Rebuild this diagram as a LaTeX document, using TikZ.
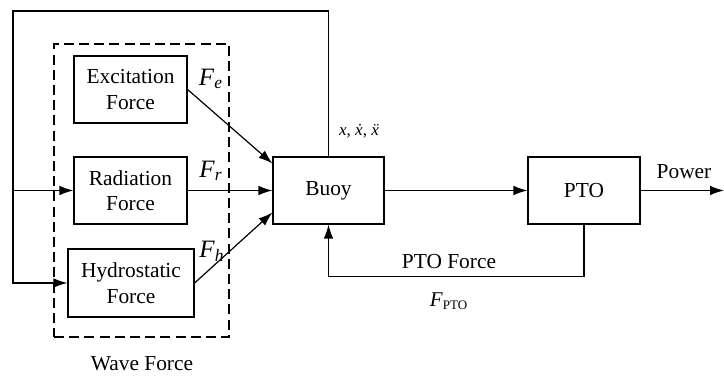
\documentclass[tikz,border=0pt]{standalone}
\usepackage{fontspec}
\setmainfont{Liberation Serif}
\usetikzlibrary{arrows.meta,calc}
\tikzset{
	block/.style={shape=rectangle,draw,line width=0.6pt,inner sep=0pt,align=center,
		font=\fontsize{10.7}{12.8}\selectfont},
	arr/.style={line width=0.6pt,-{Latex[length=7pt,width=4.8pt]}},
	lbl/.style={font=\fontsize{10.7}{12.8}\selectfont},
	flbl/.style={font=\fontsize{12.5}{14}\selectfont}
}
\newcommand{\frc}[1]{\textit{F}\textsubscript{\textit{#1}}}
\begin{document}
\begin{tikzpicture}[x=0.5pt,y=-0.5pt]
	\useasboundingbox (0,0) rectangle (724,379);

	\node[shape=rectangle,draw,dash pattern=on 5pt off 2.6pt,line width=0.6pt,
		minimum width=87.5pt,minimum height=146.5pt] (wave) at (141.5,190.5) {};
	\node[block,minimum width=56.5pt,minimum height=33.5pt] (exc) at (130.5,89.5) {Excitation\\Force};
	\node[block,minimum width=56.5pt,minimum height=33.5pt] (rad) at (130.5,190.5) {Radiation\\Force};
	\node[block,minimum width=63pt,minimum height=34pt] (hyd) at (131,283) {Hydrostatic\\Force};
	\node[block,minimum width=55.5pt,minimum height=33.5pt] (buoy) at (328.5,190.5) {Buoy};
	\node[block,minimum width=56pt,minimum height=33.5pt] (pto) at (584,190.5) {PTO};

	\node[lbl] (wavelbl) at (142,364) {Wave Force};
	\node[flbl] (fe) at (211,79) {\frc{e}};
	\node[flbl] (fr) at (211,171) {\frc{r}};
	\node[flbl] (fh) at (212,251) {\frc{h}};
	\node[font=\fontsize{8.5}{10}\selectfont] (state) at (359,131) {\textit{x}, \textit{\.x}, \textit{\"x}};
	\node[lbl] (power) at (684,172) {Power};
	\node[lbl] (ptof) at (449,262) {PTO Force};
	\node[font=\fontsize{10.5}{12}\selectfont] (fpto) at (449,301) {\textit{F}\textsubscript{\fontsize{6.5}{7}\selectfont PTO}};

	\coordinate (tl) at (13,11);
	\coordinate (out) at (724,190.5);

	\draw[arr] (exc.east) -- ($(buoy.west)+(0,-27)$);
	\draw[arr] (rad.east) -- (buoy.west);
	\draw[arr] (hyd.east) -- ($(buoy.west)+(0,22)$);
	\draw[arr] (buoy.north) |- (tl) |- (hyd.west);
	\draw[arr] (tl |- rad.west) -- (rad.west);
	\draw[arr] (buoy.east) -- (pto.west);
	\draw[arr] (pto.east) -- (out);
	\draw[arr] (pto.south) -- ++(0,52) -| (buoy.south);
\end{tikzpicture}
\end{document}
